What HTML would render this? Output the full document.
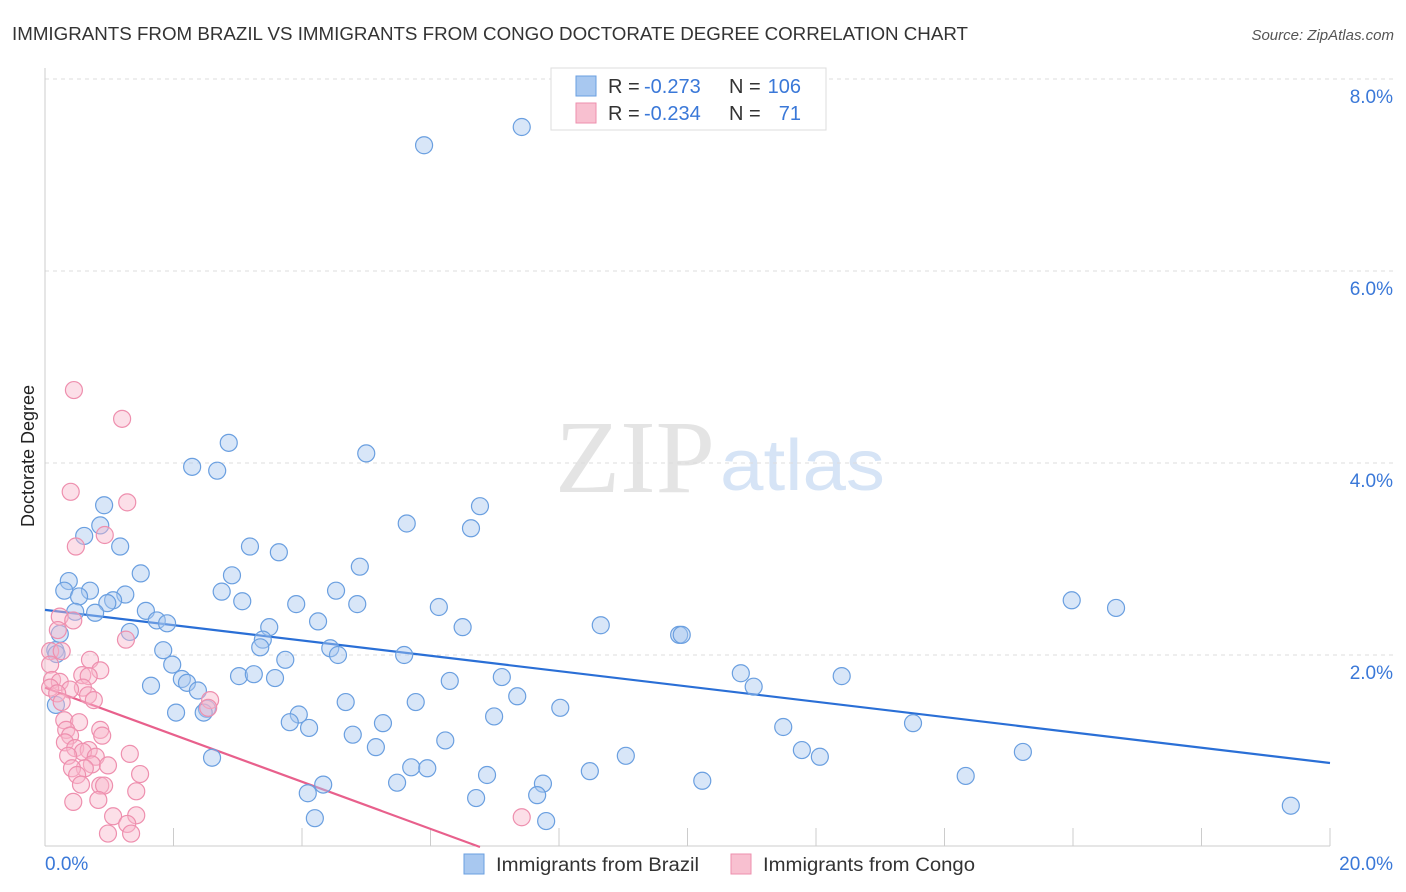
<!DOCTYPE html>
<html><head><meta charset="utf-8">
<style>
body{margin:0;background:#fff;font-family:"Liberation Sans",sans-serif;}
svg{display:block}
</style></head><body>
<svg id="chart" width="1406" height="892">
<text x="12" y="40" font-size="18" fill="#333" textLength="956" lengthAdjust="spacingAndGlyphs">IMMIGRANTS FROM BRAZIL VS IMMIGRANTS FROM CONGO DOCTORATE DEGREE CORRELATION CHART</text>
<text x="1394" y="40" font-size="15" fill="#555" font-style="italic" text-anchor="end">Source: ZipAtlas.com</text>
<text x="715" y="492" font-size="104" fill="#e4e4e4" text-anchor="end" font-family="Liberation Serif,serif" textLength="160" lengthAdjust="spacingAndGlyphs">ZIP</text>
<text x="720" y="490" font-size="72" fill="#d6e4f6" textLength="165" lengthAdjust="spacingAndGlyphs">atlas</text>
<g id="grid"></g><g id="axes"></g><g id="lines"></g><g id="pts"></g>
<text transform="translate(34,456) rotate(-90)" font-size="18" fill="#222" text-anchor="middle">Doctorate Degree</text>
<g>
<rect x="551" y="68" width="275" height="62" fill="#fff" stroke="#ddd"/>
<rect x="576" y="76" width="20" height="20" fill="#a8c8f0" stroke="#6a9fe0"/>
<rect x="576" y="103" width="20" height="20" fill="#f8c0d0" stroke="#ee8fae"/>
<text x="608" y="93" font-size="20" fill="#333">R =</text>
<text x="644" y="93" font-size="20" fill="#3a78d8">-0.273</text>
<text x="729" y="93" font-size="20" fill="#333">N =</text>
<text x="801" y="93" font-size="20" fill="#3a78d8" text-anchor="end">106</text>
<text x="608" y="120" font-size="20" fill="#333">R =</text>
<text x="644" y="120" font-size="20" fill="#3a78d8">-0.234</text>
<text x="729" y="120" font-size="20" fill="#333">N =</text>
<text x="801" y="120" font-size="20" fill="#3a78d8" text-anchor="end">71</text>
</g>
<g>
<rect x="464" y="854" width="20" height="20" fill="#a8c8f0" stroke="#6a9fe0"/>
<text x="496" y="871" font-size="19" fill="#333" textLength="203" lengthAdjust="spacingAndGlyphs">Immigrants from Brazil</text>
<rect x="731" y="854" width="20" height="20" fill="#f8c0d0" stroke="#ee8fae"/>
<text x="763" y="871" font-size="19" fill="#333" textLength="212" lengthAdjust="spacingAndGlyphs">Immigrants from Congo</text>
</g>
</svg>
<script>
const yTicks=[2,4,6,8];
const yTickLabels=["2.0%","4.0%","6.0%","8.0%"];
const xEndLabels=["0.0%","20.0%"];
const brazilX=[7.42,5.90,2.86,5.00,2.29,2.68,6.77,0.92,5.63,0.86,6.63,0.61,1.17,3.19,3.64,4.90,1.49,2.91,0.37,0.30,0.70,2.75,4.53,0.53,1.25,1.06,0.97,3.07,3.91,4.86,15.98,16.67,6.13,0.47,0.78,1.57,1.74,1.90,4.25,6.50,8.65,3.49,1.32,0.23,9.87,9.91,3.39,3.35,4.44,0.16,1.84,4.56,5.59,3.74,1.98,10.83,12.40,3.02,3.25,3.58,7.11,6.30,2.13,2.21,1.65,2.38,11.03,7.35,4.68,5.77,0.17,2.52,8.02,2.04,2.47,3.95,6.99,3.81,5.26,13.51,4.11,11.49,4.79,6.23,5.15,11.78,15.22,9.04,12.06,2.60,5.70,5.95,8.48,6.88,14.33,10.23,5.48,4.33,7.75,4.09,7.66,6.71,19.39,4.20,7.80,0.18];
const brazilY=[7.50,7.31,4.21,4.10,3.96,3.92,3.55,3.56,3.37,3.35,3.32,3.24,3.13,3.13,3.07,2.92,2.85,2.83,2.77,2.67,2.67,2.66,2.67,2.61,2.63,2.57,2.54,2.56,2.53,2.53,2.57,2.49,2.50,2.45,2.44,2.46,2.36,2.33,2.35,2.29,2.31,2.29,2.24,2.22,2.21,2.21,2.16,2.08,2.07,2.05,2.05,2.00,2.00,1.95,1.90,1.81,1.78,1.78,1.80,1.76,1.77,1.73,1.75,1.71,1.68,1.63,1.67,1.57,1.51,1.51,1.48,1.44,1.45,1.40,1.40,1.38,1.36,1.30,1.29,1.29,1.24,1.25,1.17,1.11,1.04,1.01,0.99,0.95,0.94,0.93,0.83,0.82,0.79,0.75,0.74,0.69,0.67,0.65,0.66,0.56,0.54,0.51,0.43,0.30,0.27,2.01];
const congoX=[0.45,1.20,0.40,1.28,0.93,0.48,0.23,0.44,1.26,0.20,0.08,0.26,0.70,0.08,0.86,0.58,0.68,0.11,0.23,0.08,0.59,0.39,0.19,0.67,0.76,2.57,0.26,2.54,0.30,0.53,0.86,0.33,0.39,0.89,0.31,0.47,0.68,1.32,0.59,0.79,0.36,0.73,0.98,0.62,0.42,1.48,0.50,0.56,0.86,0.92,1.42,0.83,0.44,1.06,1.42,1.28,7.42,0.98,1.34];
const congoY=[4.76,4.46,3.70,3.59,3.25,3.13,2.40,2.36,2.16,2.26,2.04,2.04,1.95,1.90,1.84,1.79,1.78,1.74,1.72,1.66,1.66,1.64,1.60,1.58,1.53,1.53,1.51,1.45,1.32,1.30,1.22,1.22,1.16,1.16,1.09,1.03,1.01,0.97,0.99,0.94,0.95,0.86,0.85,0.82,0.82,0.76,0.75,0.65,0.64,0.64,0.58,0.49,0.47,0.32,0.33,0.24,0.31,0.14,0.14];
const brazilTrend=[2.47,0.875];
const congoTrend=[1.66,0.0,6.77];
const NS="http://www.w3.org/2000/svg";
const X=v=>45+v*64.25, Y=v=>847-v*96;
function mk(t,a,p){const e=document.createElementNS(NS,t);for(const k in a)e.setAttribute(k,a[k]);p.appendChild(e);return e;}
const grid=document.getElementById('grid'),axes=document.getElementById('axes'),lines=document.getElementById('lines'),pts=document.getElementById('pts');
yTicks.forEach((t,i)=>{
 const l=mk('line',{x1:45,x2:1394,y1:Y(t),y2:Y(t),stroke:'#ddd','stroke-dasharray':'4,4'},grid);
 
 
 const tx=mk('text',{x:1393,y:Y(t)+24,'font-size':19,fill:'#3a78d8','text-anchor':'end'},axes);
 tx.textContent=yTickLabels[i];
 
 
});
const xa=mk('line',{x1:45,x2:1330,y1:846,y2:846,stroke:'#ccc'},axes);


const ya=mk('line',{x1:45,x2:45,y1:68,y2:846,stroke:'#ccc'},axes);


for(let i=0;i<=10;i++){const t=mk('line',{x1:X(i*2),x2:X(i*2),y1:828,y2:846,stroke:'#ccc'},axes);
 
 }
[[0,'start',45],[20,'end',1393]].forEach((d,i)=>{const t=mk('text',{x:d[2],y:870,'font-size':19,fill:'#3a78d8','text-anchor':d[1]},axes);t.textContent=xEndLabels[i];
 
 });
function dots(xs,ys,fill,stroke,name){xs.forEach((x,i)=>{const c=mk('circle',{cx:X(x),cy:Y(ys[i]),r:8.5,fill:fill,'fill-opacity':0.45,stroke:stroke,'stroke-width':1.2},pts);
 
 });}
dots(brazilX,brazilY,'#a8c8f0','#6a9fe0','brazil-point');
dots(congoX,congoY,'#f8b8cc','#ee8fae','congo-point');
const bl=mk('line',{x1:X(0),y1:Y(brazilTrend[0]),x2:X(20),y2:Y(brazilTrend[1]),stroke:'#2a6fd6','stroke-width':2.2},lines);


const cl=mk('line',{x1:X(0),y1:Y(congoTrend[0]),x2:X(congoTrend[2]),y2:Y(congoTrend[1]),stroke:'#e8608c','stroke-width':2.2},lines);


</script>
</body></html>
